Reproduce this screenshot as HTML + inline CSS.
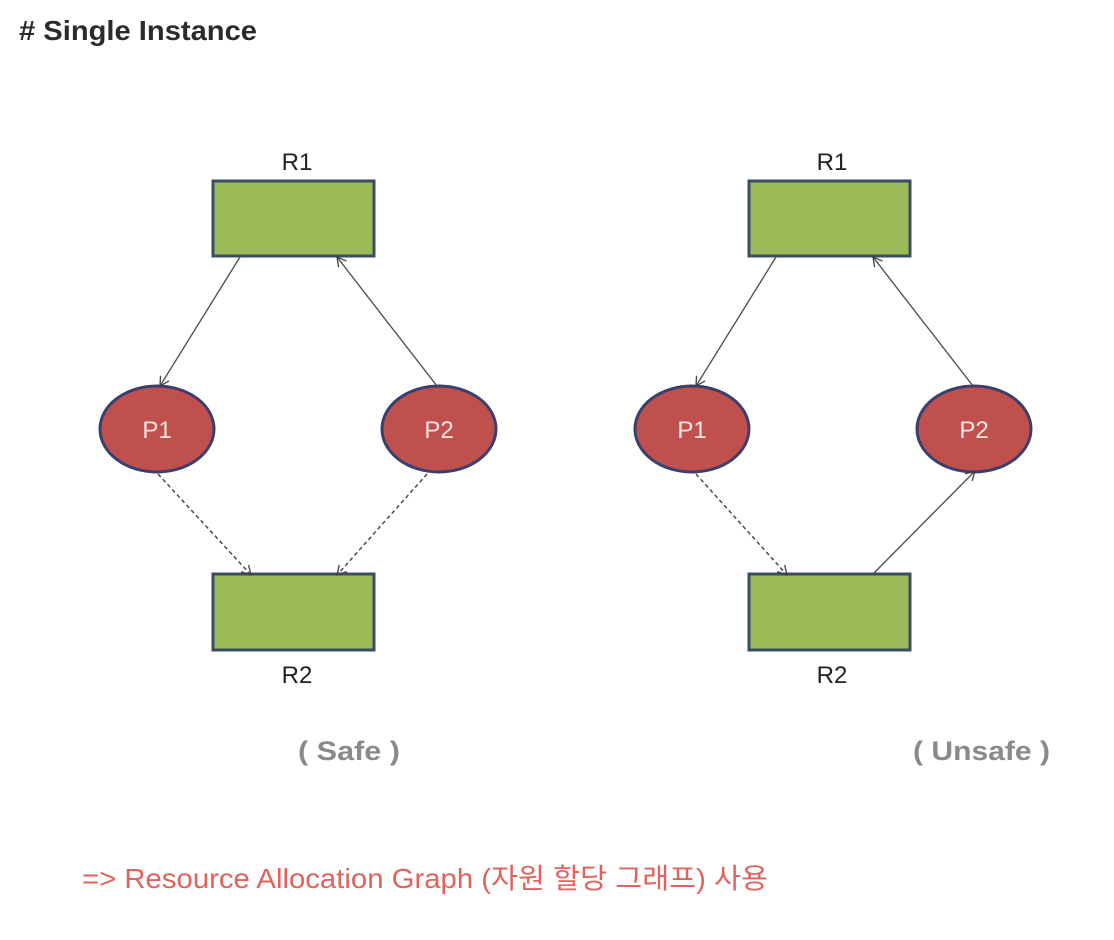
<!DOCTYPE html>
<html><head><meta charset="utf-8"><style>
html,body{margin:0;padding:0;background:#fff;width:1114px;height:940px;overflow:hidden}
</style></head><body>
<svg width="1114" height="940" viewBox="0 0 1114 940" xmlns="http://www.w3.org/2000/svg">
<defs>
<marker id="a" markerWidth="12" markerHeight="12" refX="10" refY="6" orient="auto" markerUnits="userSpaceOnUse">
<path d="M1,1 L10,6 L1,11" fill="none" stroke="#404040" stroke-width="1.3"/>
</marker>
</defs>
<text x="19" y="40" font-family="Liberation Sans, sans-serif" font-weight="bold" font-size="28" fill="#2b2b2b" textLength="238" lengthAdjust="spacingAndGlyphs"># Single Instance</text>

<g font-family="Liberation Sans, sans-serif" font-size="24" fill="#222" text-anchor="middle">
<text x="297" y="170">R1</text>
<text x="297" y="683">R2</text>
<text x="832" y="170">R1</text>
<text x="832" y="683">R2</text>
</g>

<g fill="#9bbb59" stroke="#3b4d63" stroke-width="3">
<rect x="213" y="181" width="161" height="75"/>
<rect x="213" y="574" width="161" height="76"/>
<rect x="749" y="181" width="161" height="75"/>
<rect x="749" y="574" width="161" height="76"/>
</g>

<g fill="#c0504d" stroke="#3a3f6e" stroke-width="3">
<ellipse cx="157" cy="429" rx="57" ry="43"/>
<ellipse cx="439" cy="429" rx="57" ry="43"/>
<ellipse cx="692" cy="429" rx="57" ry="43"/>
<ellipse cx="974" cy="429" rx="57" ry="43"/>
</g>
<g font-family="Liberation Sans, sans-serif" font-size="24" fill="#f4e6e2" text-anchor="middle">
<text x="157" y="438">P1</text>
<text x="439" y="438">P2</text>
<text x="692" y="438">P1</text>
<text x="974" y="438">P2</text>
</g>

<g stroke="#4a4a4a" stroke-width="1.3" fill="none" marker-end="url(#a)">
<line x1="240" y1="257" x2="160" y2="386"/>
<line x1="437" y1="386" x2="337" y2="257"/>
<line x1="776" y1="257" x2="696" y2="386"/>
<line x1="973" y1="386" x2="873" y2="257"/>
<line x1="873" y1="574" x2="975" y2="471"/>
</g>
<g stroke="#4a4a4a" stroke-width="1.5" fill="none" stroke-dasharray="4,3" marker-end="url(#a)">
<line x1="158" y1="474" x2="251" y2="575"/>
<line x1="427" y1="474" x2="337" y2="575"/>
<line x1="696" y1="474" x2="787" y2="575"/>
</g>

<g font-family="Liberation Sans, sans-serif" font-weight="bold" font-size="27" fill="#8a8a8a">
<text x="298" y="760" textLength="102" lengthAdjust="spacingAndGlyphs">( Safe )</text>
<text x="913" y="760" textLength="137" lengthAdjust="spacingAndGlyphs">( Unsafe )</text>
</g>

<text x="82" y="888" font-family="Liberation Sans, 'Noto Sans CJK KR', sans-serif" font-size="28" fill="#e0625c" textLength="686" lengthAdjust="spacingAndGlyphs">=&gt; Resource Allocation Graph (자원 할당 그래프) 사용</text>
</svg>
</body></html>
